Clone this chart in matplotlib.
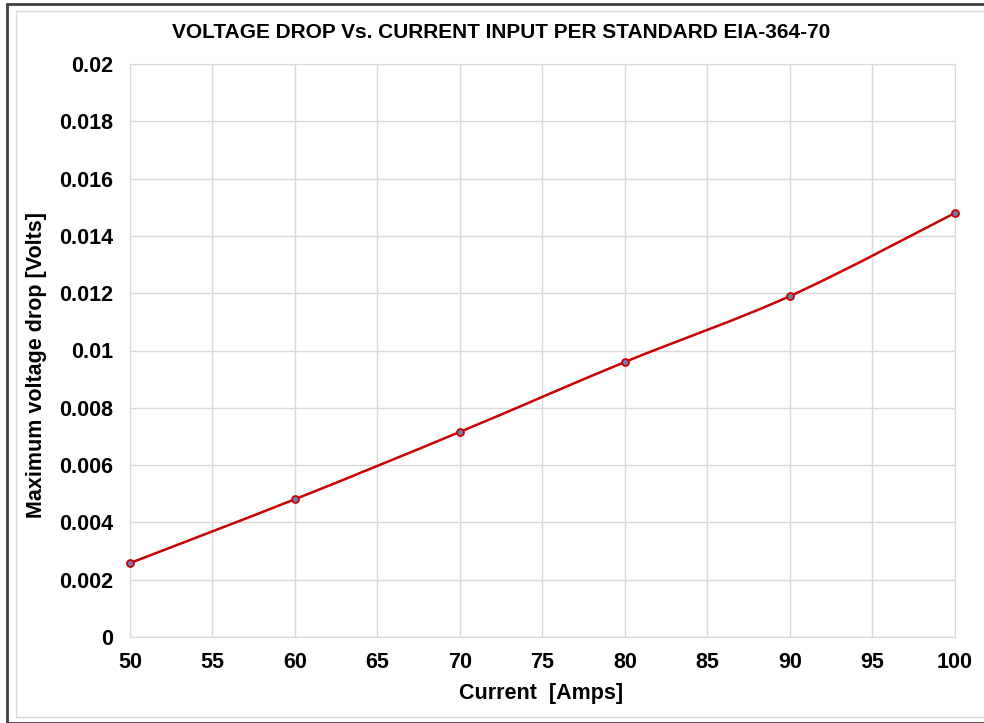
import matplotlib.pyplot as plt
import numpy as np
from matplotlib.patches import Rectangle, PathPatch
from matplotlib.path import Path

plt.rcParams["font.family"] = ["Liberation Sans", "DejaVu Sans"]

current = [50, 60, 70, 80, 90, 100]
voltage_drop = [0.00258, 0.00481, 0.00716, 0.00960, 0.01190, 0.01480]
x_ticks = [50, 55, 60, 65, 70, 75, 80, 85, 90, 95, 100]
y_ticks = [0, 0.002, 0.004, 0.006, 0.008, 0.01, 0.012, 0.014, 0.016, 0.018, 0.02]
y_tick_labels = ["0", "0.002", "0.004", "0.006", "0.008", "0.01", "0.012",
                 "0.014", "0.016", "0.018", "0.02"]


def smooth_path(xs, ys, t=1 / 6):
    # Excel-like smoothed line: cubic Bezier segments (Catmull-Rom)
    xs = np.asarray(xs, float)
    ys = np.asarray(ys, float)
    n = len(xs)
    verts = [(xs[0], ys[0])]
    codes = [Path.MOVETO]
    for i in range(n - 1):
        i0 = max(i - 1, 0)
        i3 = min(i + 2, n - 1)
        c1 = (xs[i] + (xs[i + 1] - xs[i0]) * t, ys[i] + (ys[i + 1] - ys[i0]) * t)
        c2 = (xs[i + 1] - (xs[i3] - xs[i]) * t, ys[i + 1] - (ys[i3] - ys[i]) * t)
        verts += [c1, c2, (xs[i + 1], ys[i + 1])]
        codes += [Path.CURVE4] * 3
    return Path(verts, codes)


fig = plt.figure(figsize=(9.84, 7.23), dpi=100)
W, H = 984, 723
ax = fig.add_axes([130 / W, 1 - 637 / H, (955 - 130) / W, (637 - 64) / H])

ax.add_patch(PathPatch(smooth_path(current, voltage_drop), fill=False,
                       edgecolor="#c80000", lw=1.8, zorder=3))
ax.plot(current, voltage_drop, ls="none", marker="o", ms=5,
        mfc="#6b7fb0", mec="#c80000", mew=1.3, zorder=4, clip_on=False)

ax.set_xlim(50, 100)
ax.set_ylim(0, 0.02)
ax.set_xticks(x_ticks)
ax.set_yticks(y_ticks)
ax.set_yticklabels(y_tick_labels)
ax.grid(True, color="#d9d9d9", lw=1)
ax.set_axisbelow(True)
for s in ax.spines.values():
    s.set_color("#d9d9d9")
ax.tick_params(length=0, labelsize=15.5)
ax.tick_params(axis="y", pad=12)
ax.tick_params(axis="x", pad=11)
for lab in ax.get_xticklabels() + ax.get_yticklabels():
    lab.set_fontweight("bold")

fig.text(501 / W, 1 - 33 / H, "VOLTAGE DROP Vs. CURRENT INPUT PER STANDARD EIA-364-70",
         ha="center", va="center", fontsize=15, fontweight="bold")
fig.text(541 / W, 1 - 693 / H, "Current  [Amps]", ha="center", va="center",
         fontsize=15.5, fontweight="bold")
fig.text(37 / W, 1 - 365 / H, "Maximum voltage drop [Volts]", ha="center",
         va="center", rotation=90, fontsize=15.5, fontweight="bold")

# outer frames
fig.add_artist(Rectangle((6.5 / W, 0), 1, 1 - 3.5 / H, transform=fig.transFigure,
                         fill=False, edgecolor="#404040", lw=2))
fig.add_artist(Rectangle((16 / W, 1 - 717 / H), 1, (717 - 11) / H,
                         transform=fig.transFigure, fill=False,
                         edgecolor="#d9d9d9", lw=1))

fig.savefig("out.png", dpi=100)
